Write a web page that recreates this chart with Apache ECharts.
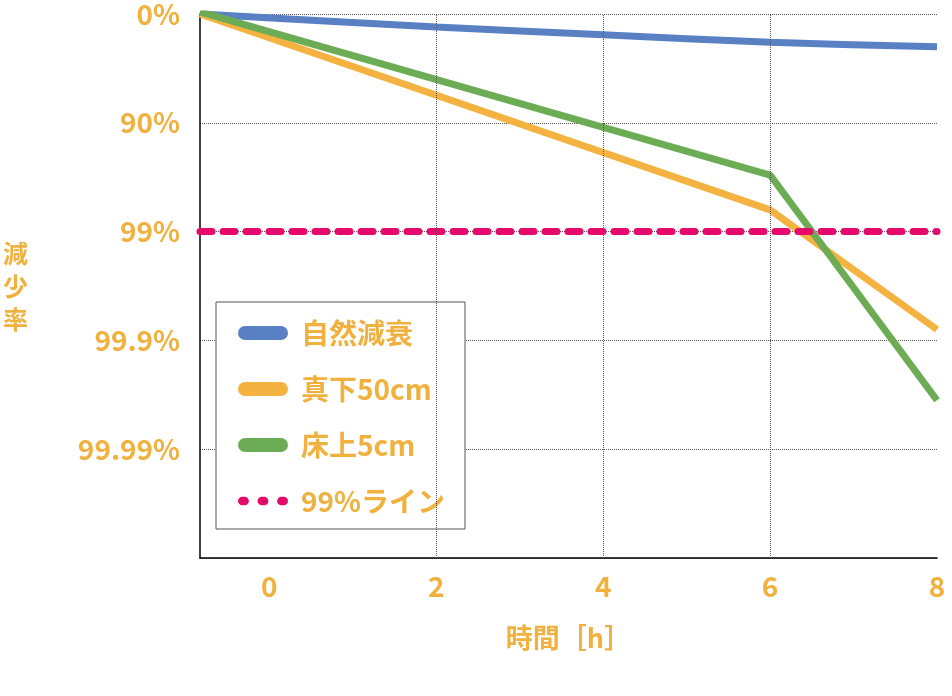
<!DOCTYPE html><html><head><meta charset="utf-8"><script src="https://cdn.jsdelivr.net/npm/echarts@6/dist/echarts.min.js"></script></head><body style="margin:0"><div id="c" style="width:952px;height:696px"></div><script>
const xNatural=[-0.83,2,4,6,8], yNatural=[0,-0.12,-0.19,-0.26,-0.3];
const xUnder=[-0.83,6,8], yUnder=[0,-1.8,-2.9];
const xFloor=[-0.83,6,8], yFloor=[0.02,-1.48,-3.55];
const xLine=[-0.83,8], yLine=[-2,-2];
const yTickLabels={'0':'0%','-1':'90%','-2':'99%','-3':'99.9%','-4':'99.99%'};
const xTicks=[0,2,4,6,8];
const names=['自然減衰','真下50cm','床上5cm','99%ライン'];
const lc='#f0b13f';
const z=(a,b)=>a.map((v,i)=>[v,b[i]]);
const bar='path://M7,0H43A7,7 0 0 1 43,14H7A7,7 0 0 1 7,0Z';
const dots='path://M4,0H6A4,4 0 0 1 6,8H4A4,4 0 0 1 4,0ZM22,0H24A4,4 0 0 1 24,8H22A4,4 0 0 1 22,0ZM40,0H42A4,4 0 0 1 42,8H40A4,4 0 0 1 40,0Z';
const ch=echarts.init(document.getElementById('c'));
const grid={type:'dotted',color:'#555',width:1};
ch.setOption({animation:false,
grid:{left:190,right:15,top:12,bottom:138},
xAxis:{type:'value',min:-0.83,max:8,name:'時間［h］',nameLocation:'middle',nameGap:66,
 nameTextStyle:{color:lc,fontSize:27,fontWeight:'bold',fontFamily:'Noto Sans CJK JP'},
 axisLine:{onZero:false,lineStyle:{color:'#000',width:1.5}},axisTick:{show:false},
 axisLabel:{customValues:xTicks,color:lc,fontSize:28,fontWeight:'bold',margin:14,fontFamily:'Noto Sans CJK JP'},
 splitLine:{show:false}},
yAxis:{type:'value',min:-5,max:0,interval:1,name:'減\n少\n率',nameLocation:'middle',nameRotate:0,nameGap:172,
 nameTextStyle:{color:lc,fontSize:25,fontWeight:'bold',lineHeight:33,fontFamily:'Noto Sans CJK JP'},
 axisLine:{show:true,onZero:false,lineStyle:{color:'#000',width:1.5}},axisTick:{show:false},
 axisLabel:{formatter:v=>yTickLabels[String(v)]||'',color:lc,fontSize:28,fontWeight:'bold',margin:20,fontFamily:'Noto Sans CJK JP',verticalAlign:'middle'},
 splitLine:{lineStyle:grid}},
legend:{orient:'vertical',left:216,top:302,width:259,height:226,padding:[17,20,14,22],itemGap:28,itemWidth:50,itemHeight:14,
 backgroundColor:'#fff',borderColor:'#555',borderWidth:1,
 textStyle:{color:lc,fontSize:28,fontWeight:'bold',fontFamily:'Noto Sans CJK JP',width:190,padding:[0,0,0,8]},
 data:[{name:names[0],icon:bar},{name:names[1],icon:bar},{name:names[2],icon:bar},{name:names[3],icon:dots}]},
series:[
 {name:names[0],type:'line',symbol:'none',data:z(xNatural,yNatural),smooth:0.3,lineStyle:{color:'#5a80c4',width:7},itemStyle:{color:'#5a80c4'}},
 {name:names[1],type:'line',symbol:'none',data:z(xUnder,yUnder),lineStyle:{color:'#f4b341',width:7},itemStyle:{color:'#f4b341'}},
 {name:names[2],type:'line',symbol:'none',data:z(xFloor,yFloor),lineStyle:{color:'#6bac54',width:7},itemStyle:{color:'#6bac54'}},
 {name:names[3],type:'line',symbol:'none',data:z(xLine,yLine),lineStyle:{color:'#e6096c',width:7,type:[12,11],cap:'round'},itemStyle:{color:'#e6096c'},
  markLine:{silent:true,symbol:'none',label:{show:false},lineStyle:grid,data:[{xAxis:2},{xAxis:4},{xAxis:6}]}}
]});
</script></body></html>
